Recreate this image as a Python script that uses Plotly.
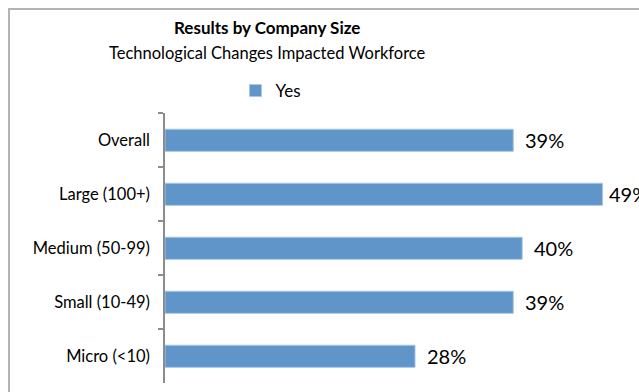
import plotly.graph_objects as go

# Share of firms reporting that technological changes impacted their workforce
categories = ["Overall", "Large (100+)", "Medium (50-99)", "Small (10-49)", "Micro (<10)"]
yes_share = [0.39, 0.49, 0.40, 0.39, 0.28]
series_name = "Yes"

W, H = 639, 392
FONT = "Lato"
BAR_COLOR = "#5F95C9"


def px_x(px):
    return px / W


def px_y(px):
    return 1 - px / H


fig = go.Figure()
fig.add_trace(go.Bar(
    y=categories,
    x=yes_share,
    orientation="h",
    name=series_name,
    width=0.41,
    marker=dict(color=BAR_COLOR, line=dict(color="#A9C8E8", width=1)),
    hoverinfo="skip",
))

# Value labels placed just past each bar end; the longest one is pulled in
for cat, val in zip(categories, yes_share):
    fig.add_annotation(
        x=val, y=cat, xref="x", yref="y",
        text=f"{round(val * 100)}%",
        showarrow=False, xanchor="left", yanchor="middle",
        xshift=4 if val > 0.45 else 10,
        font=dict(family=FONT, size=20, color="#000000"),
    )

# Chart heading
fig.add_annotation(
    x=px_x(267), y=px_y(28), xref="paper", yref="paper",
    text="<b>Results by Company Size</b>", showarrow=False,
    xanchor="center", yanchor="middle",
    font=dict(family=FONT, size=17, color="#000000"),
)
fig.add_annotation(
    x=px_x(267), y=px_y(53), xref="paper", yref="paper",
    text="Technological Changes Impacted Workforce", showarrow=False,
    xanchor="center", yanchor="middle",
    font=dict(family=FONT, size=16.5, color="#000000"),
)

# Outer chart frame
fig.add_shape(
    type="rect", xref="paper", yref="paper",
    x0=px_x(9), x1=1.05, y0=-0.05, y1=px_y(9),
    line=dict(color="#B3B3B3", width=2), fillcolor="rgba(0,0,0,0)",
    layer="below",
)

fig.update_layout(
    width=W, height=H,
    margin=dict(l=0, r=0, t=0, b=0),
    paper_bgcolor="#FFFFFF",
    plot_bgcolor="#FFFFFF",
    showlegend=True,
    legend=dict(
        orientation="h", x=px_x(271), y=px_y(91),
        xanchor="center", yanchor="middle",
        font=dict(family=FONT, size=17, color="#000000"),
        itemwidth=30, bgcolor="rgba(0,0,0,0)",
    ),
    xaxis=dict(
        domain=[px_x(165), px_x(611.5)],
        range=[0, 0.5], visible=False, fixedrange=True,
    ),
    yaxis=dict(
        domain=[px_y(383.3), px_y(113.3)],
        autorange="reversed",
        showline=True, linecolor="#8C8C8C", linewidth=1.5,
        ticks="outside", ticklen=5, tickcolor="#8C8C8C", tickwidth=1.5,
        tickson="boundaries",
        showgrid=False, zeroline=False,
        ticklabelstandoff=10,
        tickfont=dict(family=FONT, size=16.5, color="#000000"),
    ),
)

fig.write_html("out.html")
